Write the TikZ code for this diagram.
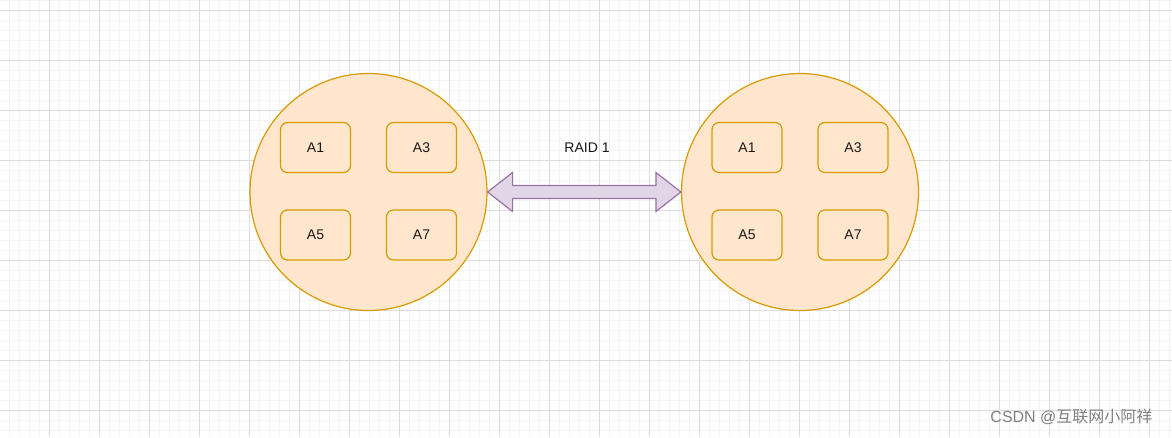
\documentclass[tikz,border=0pt]{standalone}
\usepackage{fontspec}
\setmainfont{Liberation Sans}
\newfontfamily\cjk{Noto Sans CJK SC}
\usetikzlibrary{calc}
\definecolor{diskfill}{HTML}{FFE6CC}
\definecolor{diskline}{HTML}{D79B00}
\definecolor{arrfill}{HTML}{E1D5E7}
\definecolor{arrline}{HTML}{9673A6}
\definecolor{gridminor}{HTML}{F4F4F4}
\definecolor{gridmajor}{HTML}{DCDCDC}
\tikzset{
  disk/.style={circle, draw=diskline, fill=diskfill, line width=1.2pt, minimum size=237pt, inner sep=0pt},
  blockbox/.style={rectangle, rounded corners=7pt, draw=diskline, line width=1.2pt, fill=diskfill, minimum width=70pt, minimum height=50pt, font=\fontsize{14}{16}\selectfont, text=black!90},
  bigarrow/.style={draw=arrline, fill=arrfill, line width=1.2pt, line join=miter},
  lbl/.style={font=\fontsize{14}{16}\selectfont, text=black!90},
  wm/.style={font=\fontsize{16}{18}\selectfont, text=black!50, anchor=east}
}
\begin{document}
\begin{tikzpicture}[x=1pt, y=-1pt]
\useasboundingbox (0,0) rectangle (1172,437);
\fill[white] (0,0) rectangle (1172,437);
\foreach \i in {0,...,117} {
  \draw[gridminor, line width=0.8pt] (\i*10-0.5,0) -- (\i*10-0.5,437);
}
\foreach \j in {0,...,44} {
  \draw[gridminor, line width=0.8pt] (0,\j*10) -- (1172,\j*10);
}
\foreach \i in {0,...,23} {
  \draw[gridmajor, line width=0.8pt] (\i*50+49.5,0) -- (\i*50+49.5,437);
}
\foreach \j in {0,...,8} {
  \draw[gridmajor, line width=0.8pt] (0,\j*50+10) -- (1172,\j*50+10);
}

\node[disk] (L) at (368.5,192) {};
\node[disk] (R) at (800,192) {};

\node[blockbox] (l1) at (315.5,147.5) {A1};
\node[blockbox] (l3) at (421.5,147.5) {A3};
\node[blockbox] (l5) at (315.5,235) {A5};
\node[blockbox] (l7) at (421.5,235) {A7};

\node[blockbox] (r1) at (747,147.5) {A1};
\node[blockbox] (r3) at (853,147.5) {A3};
\node[blockbox] (r5) at (747,235) {A5};
\node[blockbox] (r7) at (853,235) {A7};

\draw[bigarrow] (L.east) -- ++(25,-19.5) -- ++(0,13) -- ($(R.west)+(-25,-6.5)$) -- ++(0,-13) -- (R.west)
  -- ++(-25,19.5) -- ++(0,-13) -- ($(L.east)+(25,6.5)$) -- ++(0,13) -- cycle;

\node[lbl] (raid) at (587,148) {RAID 1};

\node[wm] (mark) at (1156,417) {CSDN @{\cjk 互联网小阿祥}};
\end{tikzpicture}
\end{document}
